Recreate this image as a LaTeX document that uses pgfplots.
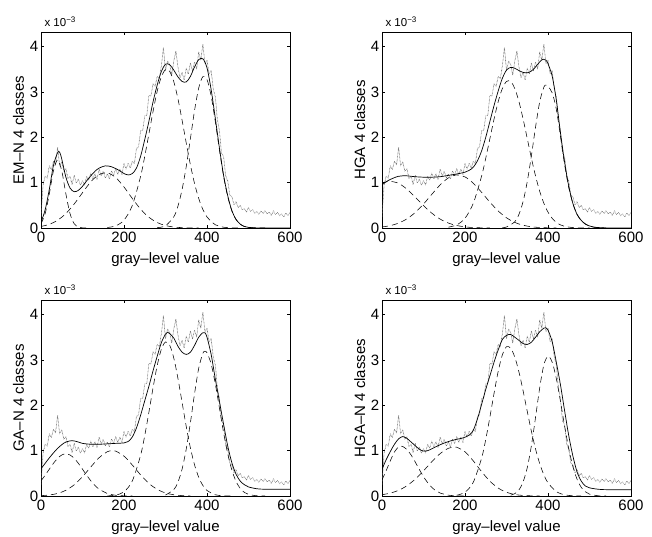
\documentclass[border=0pt]{standalone}
\usepackage{fontspec}
\setmainfont{Liberation Sans}
\usepackage{pgfplots}
\pgfplotsset{compat=1.18}
\usepackage{pgfplotstable}

% gray-level histogram, the same in all four panels (values x 10^-3)
\pgfplotstableread{
x y
0 0.25
5 0.95
10 1.14
15 1.10
20 1.37
25 1.29
30 1.47
35 1.39
40 1.78
45 1.37
50 1.46
55 1.25
60 1.31
65 1.09
70 1.14
75 0.96
80 1.16
85 0.99
90 1.08
95 0.94
100 1.05
105 0.95
110 1.14
115 1.05
120 1.21
125 1.08
130 1.20
135 1.07
140 1.30
145 1.15
150 1.25
155 1.10
160 1.19
165 1.08
170 1.26
175 1.16
180 1.31
185 1.18
190 1.30
195 1.18
200 1.42
205 1.30
210 1.43
215 1.32
220 1.47
225 1.42
230 1.75
235 1.79
240 2.14
245 2.15
250 2.47
255 2.48
260 2.92
265 2.91
270 3.18
275 3.12
280 3.34
285 3.29
290 3.57
295 3.98
300 3.47
305 3.68
310 3.61
315 3.37
320 3.68
325 3.90
330 3.55
335 3.31
340 3.43
345 3.26
350 3.52
355 3.39
360 3.64
365 3.46
370 3.66
375 3.50
380 3.88
385 3.70
390 4.05
395 3.62
400 3.70
405 3.40
410 3.47
415 3.07
420 2.89
425 2.39
430 2.14
435 1.65
440 1.57
445 1.15
450 1.04
455 0.72
460 0.69
465 0.51
470 0.58
475 0.45
480 0.50
485 0.40
490 0.43
495 0.35
500 0.45
505 0.365
510 0.405
515 0.325
520 0.365
525 0.30
530 0.38
535 0.32
540 0.385
545 0.305
550 0.35
555 0.275
560 0.38
565 0.30
570 0.345
575 0.27
580 0.31
585 0.245
590 0.33
595 0.275
600 0.345
}\histdata

\pgfplotsset{
  panel/.style={
    anchor=south west,
    scale only axis, width=249pt, height=196pt,
    xmin=0, xmax=600, ymin=0, ymax=4.32,
    xtick={0,200,400,600}, ytick={0,1,2,3,4},
    tick align=inside, major tick length=3.3pt,
    axis line style={line width=0.6pt},
    every tick/.style={black, line width=0.5pt},
    clip mode=individual,
    /pgf/number format/assume math mode=true,
    tick label style={font=\fontsize{15}{18}\selectfont},
    label style={font=\fontsize{15}{18}\selectfont},
    yticklabel style={xshift=0.8pt},
    xticklabel style={yshift=-0.5pt},
    xlabel={gray–level value},
    xlabel style={at={(axis description cs:0.5,-0.1786)}, anchor=base},
    ylabel style={at={(axis description cs:-0.0683,0.5)}, anchor=base},
    after end axis/.code={
      \node[anchor=base west, font=\fontsize{11.5}{13}\selectfont]
        at ([yshift=5.6pt]rel axis cs:0,1) {x 10\textsuperscript{−3}};
    },
  },
  hist/.style={black!62, line width=0.8pt, line cap=round, dash pattern=on 0pt off 1.4pt},
  fit/.style={black, line width=0.7pt, smooth},
  comp/.style={black, line width=0.55pt, smooth, dash pattern=on 6pt off 4pt},
}

\begin{document}
\begin{tikzpicture}
\useasboundingbox (0,0) rectangle (652pt,536pt);

% EM-N
\begin{axis}[panel, at={(41pt,308pt)}, ylabel={EM–N 4 classes}]
\addplot[hist] table {\histdata};
\addplot[comp] coordinates {(0,0.094)(10,0.316)(20,0.75)(30,1.26)(40,1.5)(50,1.26)(60,0.75)(70,0.316)(80,0.094)(90,0.02)(100,0.003)(110,0)};
\addplot[comp] coordinates {(0,0.034)(20,0.081)(40,0.171)(60,0.319)(80,0.529)(100,0.778)(120,1.017)(140,1.18)(160,1.215)(180,1.112)(200,0.903)(220,0.651)(240,0.417)(260,0.237)(280,0.120)(300,0.054)(320,0.021)(340,0.008)(360,0.002)(380,0)};
\addplot[comp] coordinates {(160,0.011)(180,0.048)(200,0.173)(220,0.497)(240,1.138)(250,1.58)(260,2.072)(270,2.57)(280,3.014)(290,3.336)(300,3.491)(310,3.451)(320,3.224)(330,2.846)(340,2.373)(350,1.873)(360,1.393)(370,0.98)(380,0.651)(390,0.41)(400,0.243)(420,0.072)(440,0.017)(460,0.003)(480,0)};
\addplot[comp] coordinates {(280,0.007)(300,0.049)(320,0.248)(330,0.482)(340,0.851)(350,1.357)(360,1.97)(370,2.59)(380,3.085)(390,3.335)(400,3.27)(410,2.91)(420,2.345)(430,1.72)(440,1.139)(450,0.687)(460,0.374)(470,0.185)(480,0.083)(490,0.034)(500,0.012)(520,0.001)(540,0)};
\addplot[fit] coordinates {(0,0.13)(10,0.40)(20,0.85)(30,1.38)(40,1.66)(45,1.67)(50,1.52)(60,1.12)(70,0.88)(80,0.80)(90,0.83)(100,0.92)(110,1.04)(120,1.15)(130,1.25)(140,1.32)(155,1.37)(170,1.35)(180,1.31)(190,1.26)(200,1.20)(210,1.17)(220,1.20)(230,1.32)(240,1.58)(250,1.95)(260,2.35)(270,2.78)(280,3.15)(290,3.45)(300,3.61)(310,3.60)(320,3.48)(330,3.33)(340,3.23)(350,3.22)(360,3.34)(370,3.55)(380,3.71)(390,3.73)(400,3.53)(410,3.05)(420,2.42)(430,1.76)(440,1.16)(450,0.71)(460,0.38)(470,0.19)(480,0.085)(490,0.035)(500,0.013)(520,0.002)(540,0)(600,0)};
\end{axis}

% HGA
\begin{axis}[panel, at={(382pt,308pt)}, ylabel={HGA 4 classes}]
\addplot[hist] table {\histdata};
\addplot[comp] coordinates {(0,0.984)(10,1.018)(20,1.03)(40,0.984)(60,0.857)(80,0.681)(100,0.494)(120,0.327)(140,0.197)(160,0.109)(180,0.055)(200,0.025)(220,0.010)(240,0.004)(260,0)};
\addplot[comp] coordinates {(0,0.023)(20,0.052)(40,0.108)(60,0.201)(80,0.342)(100,0.528)(120,0.742)(140,0.949)(160,1.105)(180,1.17)(200,1.126)(220,0.986)(240,0.786)(260,0.57)(280,0.375)(300,0.225)(320,0.123)(340,0.061)(360,0.027)(380,0.011)(400,0.004)(420,0)};
\addplot[comp] coordinates {(160,0.018)(180,0.069)(200,0.214)(220,0.546)(240,1.145)(250,1.54)(260,1.971)(270,2.402)(280,2.785)(290,3.074)(300,3.23)(310,3.23)(320,3.074)(330,2.785)(340,2.402)(350,1.971)(360,1.54)(370,1.145)(380,0.81)(390,0.546)(400,0.35)(410,0.214)(420,0.124)(430,0.069)(440,0.036)(460,0.009)(480,0.002)(500,0)};
\addplot[comp] coordinates {(290,0.007)(300,0.021)(320,0.138)(330,0.301)(340,0.586)(350,1.023)(360,1.594)(370,2.226)(380,2.78)(390,3.106)(395,3.15)(400,3.12)(410,2.98)(420,2.62)(430,2.02)(440,1.40)(450,0.89)(460,0.54)(470,0.30)(480,0.165)(490,0.085)(500,0.04)(520,0.006)(540,0)};
\addplot[fit] coordinates {(0,0.95)(10,1.02)(20,1.07)(30,1.11)(40,1.14)(50,1.15)(60,1.15)(70,1.14)(80,1.13)(100,1.12)(120,1.12)(140,1.13)(160,1.16)(180,1.19)(200,1.23)(210,1.27)(220,1.34)(230,1.48)(240,1.70)(250,2.00)(260,2.35)(270,2.70)(280,3.02)(290,3.30)(300,3.48)(310,3.54)(320,3.52)(330,3.47)(340,3.43)(350,3.42)(360,3.46)(370,3.55)(380,3.66)(388,3.72)(395,3.70)(400,3.62)(410,3.35)(420,2.82)(430,2.10)(440,1.45)(450,0.92)(460,0.54)(470,0.30)(480,0.17)(490,0.09)(500,0.045)(510,0.02)(530,0.005)(550,0)(600,0)};
\end{axis}

% GA-N
\begin{axis}[panel, at={(41pt,40pt)}, ylabel={GA–N 4 classes}]
\addplot[hist] table {\histdata};
\addplot[comp] coordinates {(0,0.335)(10,0.458)(20,0.591)(30,0.721)(40,0.830)(50,0.904)(60,0.93)(70,0.904)(80,0.830)(90,0.721)(100,0.591)(110,0.458)(120,0.335)(130,0.232)(140,0.152)(160,0.055)(180,0.016)(200,0.004)(220,0)};
\addplot[comp] coordinates {(0,0.008)(20,0.022)(40,0.056)(60,0.126)(80,0.247)(100,0.425)(120,0.640)(140,0.844)(160,0.977)(172,1.0)(180,0.990)(200,0.879)(220,0.683)(240,0.466)(260,0.278)(280,0.146)(300,0.067)(320,0.027)(340,0.009)(360,0)};
\addplot[comp] coordinates {(160,0.003)(180,0.020)(200,0.093)(220,0.331)(240,0.898)(250,1.333)(260,1.845)(270,2.385)(280,2.875)(290,3.235)(300,3.395)(310,3.325)(320,3.04)(330,2.591)(340,2.062)(350,1.531)(360,1.061)(370,0.686)(380,0.413)(390,0.233)(400,0.122)(420,0.027)(440,0.005)(460,0)};
\addplot[comp] coordinates {(300,0.021)(320,0.140)(330,0.305)(340,0.594)(350,1.036)(360,1.615)(370,2.254)(380,2.815)(390,3.146)(395,3.19)(400,3.157)(410,2.910)(420,2.472)(430,1.935)(440,1.396)(450,0.928)(460,0.569)(470,0.321)(480,0.167)(490,0.080)(500,0.035)(520,0.005)(540,0)};
\addplot[fit] coordinates {(0,0.60)(10,0.72)(20,0.84)(30,0.95)(40,1.05)(50,1.13)(60,1.19)(75,1.22)(90,1.19)(100,1.16)(120,1.14)(140,1.14)(160,1.15)(180,1.16)(200,1.17)(210,1.20)(220,1.30)(230,1.50)(240,1.78)(250,2.10)(260,2.42)(270,2.76)(280,3.08)(290,3.38)(300,3.57)(305,3.61)(310,3.58)(320,3.48)(330,3.30)(340,3.17)(350,3.12)(360,3.17)(370,3.32)(380,3.50)(390,3.60)(395,3.60)(400,3.50)(410,3.12)(420,2.58)(430,2.08)(440,1.58)(450,1.10)(460,0.73)(470,0.48)(480,0.33)(490,0.25)(500,0.20)(520,0.16)(540,0.15)(600,0.15)};
\end{axis}

% HGA-N
\begin{axis}[panel, at={(382pt,40pt)}, ylabel={HGA–N 4 classes}]
\addplot[hist] table {\histdata};
\addplot[comp] coordinates {(0,0.357)(10,0.557)(20,0.777)(30,0.971)(40,1.085)(45,1.10)(50,1.091)(60,1.025)(70,0.905)(80,0.750)(90,0.584)(100,0.427)(110,0.294)(120,0.190)(130,0.115)(140,0.066)(160,0.018)(180,0.004)(200,0)};
\addplot[comp] coordinates {(0,0.029)(20,0.063)(40,0.125)(60,0.226)(80,0.371)(100,0.555)(120,0.755)(140,0.934)(160,1.052)(175,1.08)(180,1.076)(200,0.974)(220,0.773)(240,0.537)(260,0.327)(280,0.175)(300,0.082)(320,0.033)(340,0.012)(360,0.004)(380,0)};
\addplot[comp] coordinates {(180,0.017)(200,0.084)(220,0.304)(240,0.835)(250,1.248)(260,1.74)(270,2.264)(280,2.748)(290,3.11)(300,3.29)(310,3.258)(320,3.06)(330,2.734)(340,2.317)(350,1.865)(360,1.426)(370,1.035)(380,0.714)(390,0.467)(400,0.290)(420,0.096)(440,0.026)(460,0.006)(480,0)};
\addplot[comp] coordinates {(310,0.018)(320,0.052)(330,0.135)(340,0.310)(350,0.625)(360,1.11)(370,1.735)(380,2.386)(390,2.89)(400,3.08)(410,2.95)(420,2.59)(430,2.087)(440,1.542)(450,1.045)(460,0.649)(470,0.370)(480,0.193)(490,0.093)(500,0.041)(520,0.006)(540,0)};
\addplot[fit] coordinates {(0,0.59)(10,0.80)(20,0.98)(30,1.14)(40,1.26)(50,1.31)(60,1.27)(70,1.19)(80,1.11)(90,1.03)(100,0.99)(110,1.00)(120,1.04)(140,1.13)(160,1.20)(180,1.25)(195,1.28)(210,1.34)(220,1.45)(230,1.70)(240,2.02)(250,2.35)(260,2.65)(270,2.95)(280,3.22)(290,3.45)(300,3.54)(310,3.56)(320,3.50)(330,3.43)(340,3.36)(350,3.34)(360,3.39)(370,3.50)(380,3.62)(390,3.70)(395,3.71)(400,3.66)(410,3.40)(420,2.95)(430,2.45)(440,1.88)(450,1.33)(460,0.88)(470,0.53)(480,0.33)(490,0.22)(500,0.18)(520,0.15)(540,0.14)(600,0.14)};
\end{axis}
\end{tikzpicture}
\end{document}
